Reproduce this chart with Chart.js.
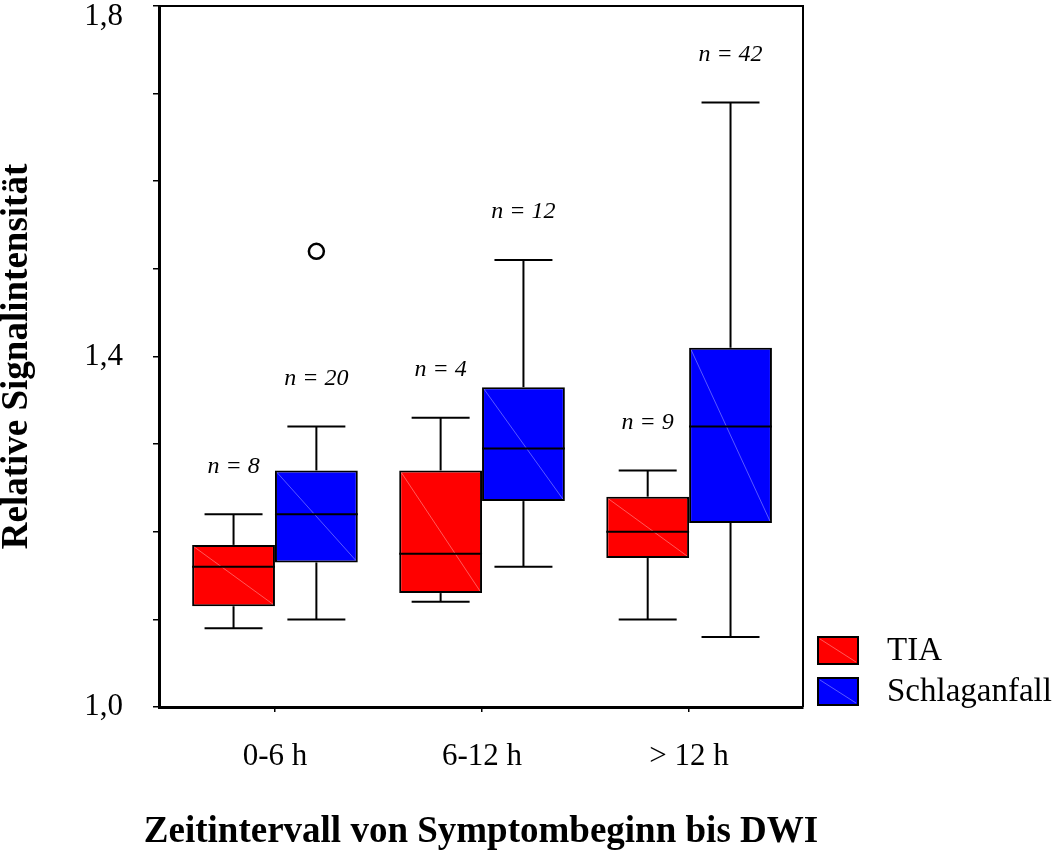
<!DOCTYPE html>
<html lang="de">
<head>
<meta charset="utf-8">
<title>Relative Signalintensität</title>
<script src="https://cdn.jsdelivr.net/npm/chart.js@4.4.0/dist/chart.umd.min.js"></script>
<style>
    html, body { margin: 0; padding: 0; background: #fff; }
    #boxChart { display: block; }
</style>
</head>
<body>
<canvas id="boxChart" width="1058" height="851"></canvas>
<script>
// Zeitintervalle (x-Achse)
const categories = ['0-6 h', '6-12 h', '> 12 h'];

// TIA: Whisker unten, Q1, Median, Q3, Whisker oben
const tiaLow = [1.09, 1.12, 1.10];
const tiaQ1 = [1.115, 1.13, 1.17];
const tiaMedian = [1.16, 1.175, 1.20];
const tiaQ3 = [1.185, 1.27, 1.24];
const tiaHigh = [1.22, 1.33, 1.27];
const tiaOutliers = [[], [], []];
const tiaN = [8, 4, 9];

// Schlaganfall
const strokeLow = [1.10, 1.16, 1.08];
const strokeQ1 = [1.165, 1.235, 1.21];
const strokeMedian = [1.22, 1.295, 1.32];
const strokeQ3 = [1.27, 1.365, 1.41];
const strokeHigh = [1.32, 1.51, 1.69];
const strokeOutliers = [[1.52], [], []];
const strokeN = [20, 12, 42];

// y-Achse: Teilstriche alle 0,1, beschriftet nur jeder vierte
const yTicks = [1.0, 1.1, 1.2, 1.3, 1.4, 1.5, 1.6, 1.7, 1.8];
const yTickLabels = ['1,0', '', '', '', '1,4', '', '', '', '1,8'];

const xTitle = 'Zeitintervall von Symptombeginn bis DWI';
const serif = '"Liberation Serif", "DejaVu Serif", serif';
const groupPos = categories.map((c, i) => i + 1);

const stats = [
    { low: tiaLow, q1: tiaQ1, med: tiaMedian, q3: tiaQ3, high: tiaHigh, out: tiaOutliers, n: tiaN },
    { low: strokeLow, q1: strokeQ1, med: strokeMedian, q3: strokeQ3, high: strokeHigh, out: strokeOutliers, n: strokeN }
];

function boxData(q1, q3) {
    return groupPos.map((x, i) => ({ x: x, y: [q1[i], q3[i]] }));
}

function line(ctx, x1, y1, x2, y2) {
    ctx.beginPath();
    ctx.moveTo(x1, y1);
    ctx.lineTo(x2, y2);
    ctx.stroke();
}

// whiskers, median, outliers and n labels on top of the boxes
const boxPlotExtras = {
    id: 'boxPlotExtras',
    afterDatasetsDraw(chart) {
        const ctx = chart.ctx;
        const yScale = chart.scales.y;
        ctx.save();
        chart.data.datasets.forEach((ds, di) => {
            const s = stats[di];
            chart.getDatasetMeta(di).data.forEach((bar, i) => {
                const half = bar.width / 2;
                const left = bar.x - half;
                const right = bar.x + half;
                const top = yScale.getPixelForValue(s.q3[i]);
                const bottom = yScale.getPixelForValue(s.q1[i]);
                const hi = yScale.getPixelForValue(s.high[i]);
                const lo = yScale.getPixelForValue(s.low[i]);
                const med = yScale.getPixelForValue(s.med[i]);
                const cap = bar.width * 0.35;

                ctx.strokeStyle = 'rgba(255,255,255,0.35)';
                ctx.lineWidth = 1;
                line(ctx, left + 2, top + 2, right - 2, bottom - 2);

                ctx.strokeStyle = '#000';
                ctx.lineWidth = 2;
                line(ctx, bar.x, top, bar.x, hi);
                line(ctx, bar.x, bottom, bar.x, lo);
                line(ctx, bar.x - cap, hi, bar.x + cap, hi);
                line(ctx, bar.x - cap, lo, bar.x + cap, lo);
                line(ctx, left, med, right, med);

                ctx.lineWidth = 2.5;
                s.out[i].forEach(v => {
                    ctx.beginPath();
                    ctx.arc(bar.x, yScale.getPixelForValue(v), 7.5, 0, Math.PI * 2);
                    ctx.stroke();
                });

                ctx.fillStyle = '#000';
                ctx.font = 'italic 24px ' + serif;
                ctx.textAlign = 'center';
                ctx.textBaseline = 'middle';
                ctx.fillText('n = ' + s.n[i], bar.x, hi - 48);
            });
        });
        ctx.restore();
    }
};

// top and right frame lines, x title and legend at the lower right
const frameAndLegend = {
    id: 'frameAndLegend',
    afterDraw(chart) {
        const ctx = chart.ctx;
        const area = chart.chartArea;
        ctx.save();
        ctx.strokeStyle = '#000';
        ctx.lineWidth = 2;
        ctx.beginPath();
        ctx.moveTo(area.left, area.top);
        ctx.lineTo(area.right, area.top);
        ctx.lineTo(area.right, area.bottom);
        ctx.stroke();

        // drawn here so it can run wider than the plot area
        ctx.fillStyle = '#000';
        ctx.font = 'bold 37px ' + serif;
        ctx.textAlign = 'center';
        ctx.textBaseline = 'middle';
        ctx.fillText(xTitle, (area.left + area.right) / 2, chart.height - 19);

        const boxW = 40;
        const boxH = 27;
        const x0 = area.right + 15;
        chart.data.datasets.forEach((ds, i) => {
            const yTop = area.bottom - 70 + i * 41;
            ctx.fillStyle = ds.backgroundColor;
            ctx.fillRect(x0, yTop, boxW, boxH);
            ctx.strokeStyle = 'rgba(255,255,255,0.35)';
            ctx.lineWidth = 1;
            line(ctx, x0 + 2, yTop + 2, x0 + boxW - 2, yTop + boxH - 2);
            ctx.strokeStyle = '#000';
            ctx.lineWidth = 2;
            ctx.strokeRect(x0, yTop, boxW, boxH);
            ctx.fillStyle = '#000';
            ctx.font = '33px ' + serif;
            ctx.textAlign = 'left';
            ctx.textBaseline = 'middle';
            ctx.fillText(ds.label, x0 + 69, yTop + boxH / 2 + 1);
        });
        ctx.restore();
    }
};

const ctx = document.getElementById('boxChart').getContext('2d');
const boxChart = new Chart(ctx, {
    type: 'bar',
    data: {
        datasets: [{
            label: 'TIA',
            data: boxData(tiaQ1, tiaQ3),
            backgroundColor: '#ff0000',
            borderColor: '#000',
            borderWidth: 2,
            borderSkipped: false
        }, {
            label: 'Schlaganfall',
            data: boxData(strokeQ1, strokeQ3),
            backgroundColor: '#0000ff',
            borderColor: '#000',
            borderWidth: 2,
            borderSkipped: false
        }]
    },
    options: {
        responsive: false,
        animation: false,
        devicePixelRatio: 1,
        categoryPercentage: 0.8,
        barPercentage: 1,
        layout: { padding: { top: 6, right: 255, bottom: 0, left: 0 } },
        plugins: {
            legend: { display: false },
            tooltip: { enabled: false }
        },
        scales: {
            x: {
                type: 'linear',
                min: 0.44,
                max: 3.55,
                offset: false,
                afterBuildTicks: scale => { scale.ticks = groupPos.map(v => ({ value: v })); },
                afterFit: scale => {
                    scale.height = 144;
                    scale.paddingLeft = 0;
                    scale.paddingRight = 0;
                },
                grid: { offset: false, drawOnChartArea: false, drawTicks: true, tickLength: 5, color: '#000', lineWidth: 1.5 },
                border: { display: true, color: '#000', width: 3 },
                ticks: {
                    callback: v => categories[Math.round(v) - 1],
                    font: { family: serif, size: 31 },
                    color: '#000',
                    padding: 26,
                    maxRotation: 0,
                    autoSkip: false
                }
            },
            y: {
                min: 1.0,
                max: 1.8,
                afterBuildTicks: scale => { scale.ticks = yTicks.map(v => ({ value: v })); },
                afterFit: scale => {
                    scale.width = 159;
                    scale.paddingTop = 0;
                    scale.paddingBottom = 0;
                },
                grid: { drawOnChartArea: false, drawTicks: true, tickLength: 6, color: '#000', lineWidth: 1.5 },
                border: { display: true, color: '#000', width: 3 },
                ticks: {
                    // the top label sits just below its tick so it stays on the canvas
                    callback: (v, i) => (i === yTicks.length - 1 ? ['', yTickLabels[i]] : yTickLabels[i]),
                    font: { family: serif, size: 31, lineHeight: 0.72 },
                    color: '#000',
                    padding: 30,
                    autoSkip: false
                },
                title: {
                    display: true,
                    text: 'Relative Signalintensität',
                    font: { family: serif, size: 37, weight: 'bold', lineHeight: 1 },
                    color: '#000',
                    padding: { top: -1, bottom: 0 }
                }
            }
        }
    },
    plugins: [boxPlotExtras, frameAndLegend]
});
</script>
</body>
</html>
